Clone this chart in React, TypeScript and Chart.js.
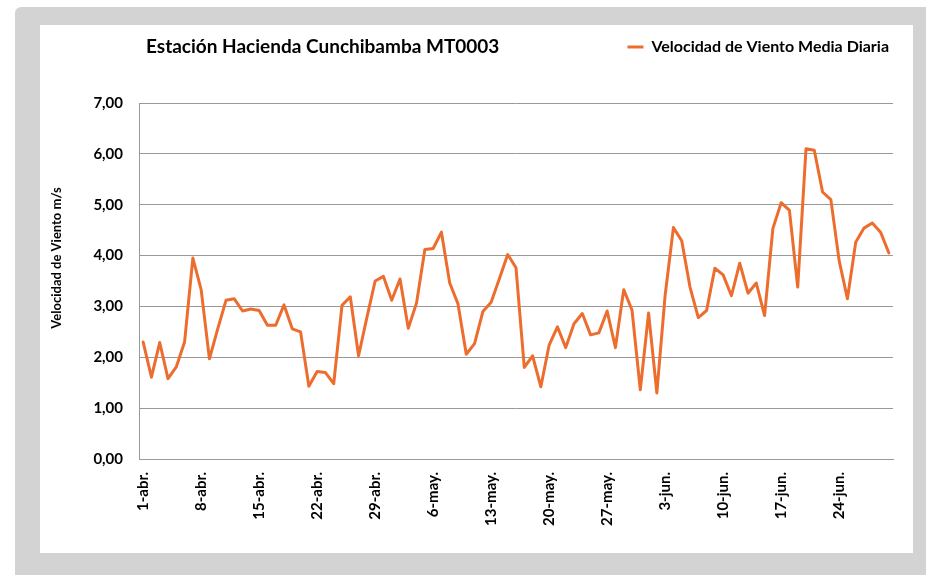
import React, { useEffect, useRef } from 'react';
import { Chart, registerables } from 'chart.js';

Chart.register(...registerables);

// ---------- data ----------
const MONTH_NAMES = ['abr.', 'may.', 'jun.'];
const MONTH_DAYS = [30, 31, 30];
const CATEGORIES: string[] = MONTH_NAMES.flatMap((m, k) =>
  Array.from({ length: MONTH_DAYS[k] }, (_, d) => `${d + 1}-${m}`)
);

const WIND_SPEED = [
  2.30, 1.61, 2.29, 1.58, 1.81, 2.30, 3.95, 3.33, 1.97, 2.56,
  3.12, 3.15, 2.91, 2.95, 2.92, 2.63, 2.63, 3.03, 2.56, 2.50,
  1.43, 1.72, 1.70, 1.48, 3.02, 3.19, 2.03, 2.78, 3.50, 3.59,
  3.12, 3.54, 2.57, 3.07, 4.12, 4.14, 4.46, 3.46, 3.05, 2.06,
  2.27, 2.90, 3.08, 3.55, 4.02, 3.76, 1.80, 2.03, 1.42, 2.24,
  2.60, 2.19, 2.66, 2.86, 2.44, 2.48, 2.91, 2.19, 3.33, 2.93,
  1.36, 2.87, 1.30, 3.22, 4.55, 4.29, 3.38, 2.78, 2.92, 3.75,
  3.62, 3.21, 3.85, 3.26, 3.46, 2.82, 4.53, 5.04, 4.89, 3.38,
  6.10, 6.07, 5.25, 5.10, 3.90, 3.15, 4.26, 4.54, 4.64, 4.46,
  4.05,
];

const Y_TICKS = [0, 1, 2, 3, 4, 5, 6, 7];
const TICK_EVERY = 7;

const TITLE = 'Estación Hacienda Cunchibamba MT0003';
const SERIES_NAME = 'Velocidad de Viento Media Diaria';
const Y_TITLE = 'Velocidad de Viento m/s';

// ---------- styles ----------
const FONT = 'Lato, "Open Sans", sans-serif';
const LINE_COLOR = '#ED6D2E';
const GRID_COLOR = '#999999';
const TEXT_COLOR = '#000000';

const CANVAS_W = 873;
const CANVAS_H = 528;

const headerRow = {
  id: 'headerRow',
  afterLayout(chart: any) {
    const t = chart.titleBlock;
    if (t) {
      const w = t.right - t.left;
      t.left = 106;
      t.right = t.left + w;
    }
    const l = chart.legend;
    if (l) {
      const h = l.height;
      l.top = 22 - h / 2;
      l.bottom = l.top + h;
      l.left += 6;
      l.right += 6;
    }
  },
  afterDraw(chart: any) {
    const ctx = chart.ctx as CanvasRenderingContext2D;
    ctx.save();
    ctx.translate(17, 233);
    ctx.rotate(-Math.PI / 2);
    ctx.font = `bold 13px ${FONT}`;
    ctx.fillStyle = TEXT_COLOR;
    ctx.textAlign = 'center';
    ctx.textBaseline = 'middle';
    ctx.fillText(Y_TITLE, 0, 0);
    ctx.restore();
  },
};

export default function App() {
  const ref = useRef<HTMLCanvasElement | null>(null);

  useEffect(() => {
    if (!ref.current) return;
    const chart = new Chart(ref.current, {
      type: 'line',
      data: {
        labels: CATEGORIES,
        datasets: [
          {
            label: SERIES_NAME,
            data: WIND_SPEED,
            borderColor: LINE_COLOR,
            backgroundColor: LINE_COLOR,
            borderWidth: 3,
            borderJoinStyle: 'round',
            borderCapStyle: 'round',
            pointRadius: 0,
            pointHoverRadius: 0,
            tension: 0,
            fill: false,
          },
        ],
      },
      options: {
        responsive: false,
        animation: false,
        layout: { padding: { top: 0, left: 0, right: 20, bottom: 0 } },
        plugins: {
          tooltip: { enabled: false },
          title: {
            display: true,
            text: TITLE,
            align: 'start',
            color: TEXT_COLOR,
            font: { family: FONT, size: 19, weight: 'bold', lineHeight: 1.2 },
            padding: { top: 10.6, bottom: 8.6 },
          },
          legend: {
            display: true,
            position: 'top',
            align: 'end',
            labels: {
              usePointStyle: true,
              pointStyle: 'line',
              pointStyleWidth: 16,
              color: TEXT_COLOR,
              padding: 10,
              font: { family: FONT, size: 16, weight: 'bold' },
            },
          },
        },
        scales: {
          x: {
            type: 'category',
            offset: true,
            grid: { display: false, drawTicks: false },
            border: { display: true, color: GRID_COLOR, width: 1 },
            ticks: {
              autoSkip: false,
              maxRotation: 90,
              minRotation: 90,
              padding: 13,
              color: TEXT_COLOR,
              font: { family: FONT, size: 15, weight: 'bold' },
              callback: (_v: any, i: number) => (i % TICK_EVERY === 0 ? CATEGORIES[i] : ''),
            },
            afterFit: (scale: any) => {
              scale.height = 94;
              scale.paddingLeft = 0;
              scale.paddingRight = 0;
            },
          },
          y: {
            min: Y_TICKS[0],
            max: Y_TICKS[Y_TICKS.length - 1],
            grid: { color: GRID_COLOR, lineWidth: 1, drawTicks: false },
            border: { display: true, color: GRID_COLOR, width: 1 },
            ticks: {
              stepSize: Y_TICKS[1] - Y_TICKS[0],
              padding: 16,
              color: TEXT_COLOR,
              font: { family: FONT, size: 15, weight: 'bold' },
              callback: (v: any) => Number(v).toFixed(2).replace('.', ','),
            },
            afterFit: (scale: any) => {
              scale.width = 99;
              scale.paddingTop = 0;
              scale.paddingBottom = 0;
            },
          },
        },
      },
      plugins: [headerRow],
    });
    return () => chart.destroy();
  }, []);

  return (
    <div style={{ position: 'absolute', left: 0, top: 0, width: 926, height: 575, background: '#ffffff', overflow: 'hidden' }}>
      <div
        style={{
          position: 'absolute',
          left: 15,
          top: 7,
          width: 911,
          height: 568,
          background: '#d3d3d3',
          borderTopLeftRadius: 6,
        }}
      />
      <div style={{ position: 'absolute', left: 40, top: 25, width: CANVAS_W, height: CANVAS_H, background: '#ffffff' }}>
        <canvas ref={ref} width={CANVAS_W} height={CANVAS_H} style={{ display: 'block', width: CANVAS_W, height: CANVAS_H }} />
      </div>
    </div>
  );
}
